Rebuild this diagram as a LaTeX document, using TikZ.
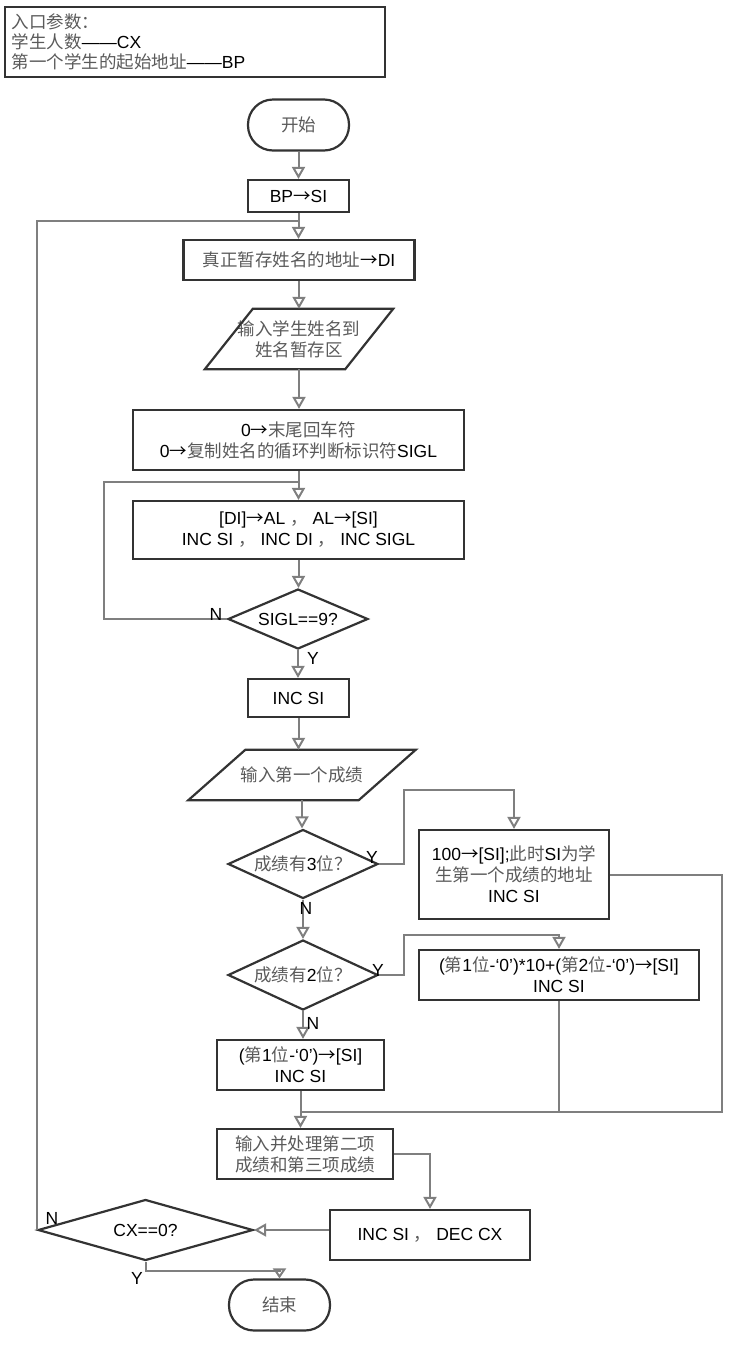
\documentclass[tikz,border=0pt]{standalone}
\usepackage{fontspec}
\setmainfont{Liberation Sans}
\newfontfamily\cjk{Noto Sans CJK SC}
\usetikzlibrary{shapes.geometric,arrows.meta,calc}
\definecolor{bordc}{HTML}{333333}
\definecolor{connc}{HTML}{7F7F7F}
\definecolor{zhc}{HTML}{5A5A5A}
\newcommand\zh[1]{{\cjk\color{zhc}#1}}
\newcommand\rarr{{\cjk →}}
\newcommand\dtext[1]{\makebox[0pt]{#1}}
\begin{document}
\begin{tikzpicture}[x=1pt,y=-1pt,
  stBase/.style={font=\fontsize{17.5}{21}\selectfont, text=black},
  stBox/.style={stBase, draw=bordc, line width=2.2pt, rectangle, align=center, inner sep=0pt},
  stTerm/.style={stBox, rounded corners=25pt},
  stDec/.style={stBase, draw=bordc, line width=2.2pt, diamond, aspect=2, inner sep=0pt, align=center},
  stTxt/.style={stBase, align=center, inner sep=0pt},
  stPg/.style={draw=bordc, line width=2.2pt, line join=miter},
  stConn/.style={draw=connc, line width=2pt},
  stArr/.style={stConn, -{Triangle[open, length=12pt, width=13pt]}},
  stArrS/.style={stConn, -{Triangle[open, length=10pt, width=13pt]}},
  stLab/.style={stBase, inner sep=0pt}
]
\useasboundingbox (0,0) rectangle (746,1350);

% entry parameters
\node[stBox, minimum width=380pt, minimum height=70pt, text width=366pt, align=left,
      font=\fontsize{17.5}{20}\selectfont] (entry) at (195,42)
  {\zh{入口参数：}\\\zh{学生人数}——CX\\\zh{第一个学生的起始地址}——BP};

% main column
\node[stTerm, minimum width=101pt, minimum height=51pt] (start) at (298.5,125) {\zh{开始}};
\node[stBox, minimum width=101pt, minimum height=32pt] (bp) at (298.5,196) {BP\rarr SI};
\node[stBox, minimum width=231pt, minimum height=40pt] (di) at (299,260) {\zh{真正暂存姓名的地址}\rarr DI};
\node[stTxt, minimum width=140pt, minimum height=60pt] (p1) at (299,339) {\zh{输入学生姓名到}\\\zh{姓名暂存区}};
\draw[stPg] ([xshift=24pt]p1.north west) -- ([xshift=24pt]p1.north east) -- ([xshift=-24pt]p1.south east) -- ([xshift=-24pt]p1.south west) -- cycle;
\node[stBox, minimum width=331pt, minimum height=60pt] (b0) at (298.5,440) {0\rarr\zh{末尾回车符}\\0\rarr\zh{复制姓名的循环判断标识符}SIGL};
\node[stBox, minimum width=331pt, minimum height=58pt] (b1) at (298.5,530) {[DI]\rarr AL \zh{，} AL\rarr[SI]\\INC SI \zh{，} INC DI \zh{，} INC SIGL};
\node[stDec, minimum width=140pt, minimum height=60pt] (d9) at (298,619) {\dtext{SIGL==9?}};
\node[stBox, minimum width=101pt, minimum height=38pt] (inc1) at (298.5,698) {INC SI};
\node[stTxt, minimum width=170pt, minimum height=50pt] (p2) at (302,775) {\zh{输入第一个成绩}};
\draw[stPg] ([xshift=28.5pt]p2.north west) -- ([xshift=28.5pt]p2.north east) -- ([xshift=-28.5pt]p2.south east) -- ([xshift=-28.5pt]p2.south west) -- cycle;
\node[stDec, minimum width=150pt, minimum height=69pt] (d3) at (303,864) {\dtext{\zh{成绩有}3\zh{位？}}};
\node[stBox, minimum width=190pt, minimum height=89pt] (b100) at (514,874.5) {100\rarr[SI];\zh{此时}SI\zh{为学}\\\zh{生第一个成绩的地址}\\INC SI};
\node[stDec, minimum width=150pt, minimum height=70pt] (d2) at (303,975) {\dtext{\zh{成绩有}2\zh{位？}}};
\node[stBox, minimum width=280pt, minimum height=50pt] (b2) at (559,975) {(\zh{第}1\zh{位}-‘0’)*10+(\zh{第}2\zh{位}-‘0’)\rarr[SI]\\INC SI};
\node[stBox, minimum width=167pt, minimum height=50pt] (b1d) at (300.5,1065) {(\zh{第}1\zh{位}-‘0’)\rarr[SI]\\INC SI};
\node[stBox, minimum width=176pt, minimum height=50pt] (proc) at (305,1154) {\zh{输入并处理第二项}\\\zh{成绩和第三项成绩}};
\node[stBox, minimum width=200pt, minimum height=50pt] (cxbox) at (430,1235) {INC SI \zh{，} DEC CX};
\node[stDec, minimum width=215pt, minimum height=61pt] (cx) at (145.5,1230) {\dtext{CX==0?}};
\node[stTerm, minimum width=101pt, minimum height=51pt] (end) at (279.5,1305) {\zh{结束}};

% helper coordinates
\coordinate (j1) at (298.5,221);
\coordinate (j2) at (298.5,482);
\coordinate (l2) at (104,482);
\coordinate (t3) at (404,790);
\coordinate (t2) at (404,935);
\coordinate (mR) at (722,1112);

% connectors
\draw[stArr] (start.south) -- (bp.north);
\draw[stArr] (bp.south) -- (bp.south |- di.north);
\draw[stConn] (cx.west) |- (j1);
\draw[stArr] (di.south) -- (di.south |- p1.north);
\draw[stArr] (p1.south) -- (p1.south |- b0.north);
\draw[stArr] (b0.south) -- (b0.south |- b1.north);
\draw[stConn] (d9.west) -| (l2) -- (j2);
\draw[stArr] (b1.south) -- (b1.south |- d9.north);
\draw[stArr] (d9.south) -- (d9.south |- inc1.north);
\draw[stArr] (inc1.south) -- (inc1.south |- p2.north);
\draw[stArr] (p2.south) -- (p2.south |- d3.north);
\draw[stArr] (d3.east) -| (t3) -| (b100.north);
\draw[stArr] (d3.south) -- (d2.north);
\draw[stArr] (d2.east) -| (t2) -| (b2.north);
\draw[stArr] (d2.south) -- (d2.south |- b1d.north);
\draw[stConn] (b100.east) -| (mR) -- (b1d.south |- mR);
\draw[stConn] (b2.south) -- (b2.south |- mR);
\draw[stArr] (b1d.south) -- (b1d.south |- proc.north);
\draw[stArr] (proc.east) -| (cxbox.north);
\draw[stArr] (cxbox.west |- cx.east) -- (cx.east);
\draw[stArrS] (cx.south) -- ++(0,9) -| (end.north);

% labels
\node[stLab] (lN1) at (216,614) {N};
\node[stLab] (lY1) at (313,658) {Y};
\node[stLab] (lY3) at (372,857) {Y};
\node[stLab] (lN3) at (306,908) {N};
\node[stLab] (lY2) at (378,970) {Y};
\node[stLab] (lN2) at (313,1023) {N};
\node[stLab] (lN4) at (52,1218) {N};
\node[stLab] (lY4) at (137,1278) {Y};
\end{tikzpicture}
\end{document}
